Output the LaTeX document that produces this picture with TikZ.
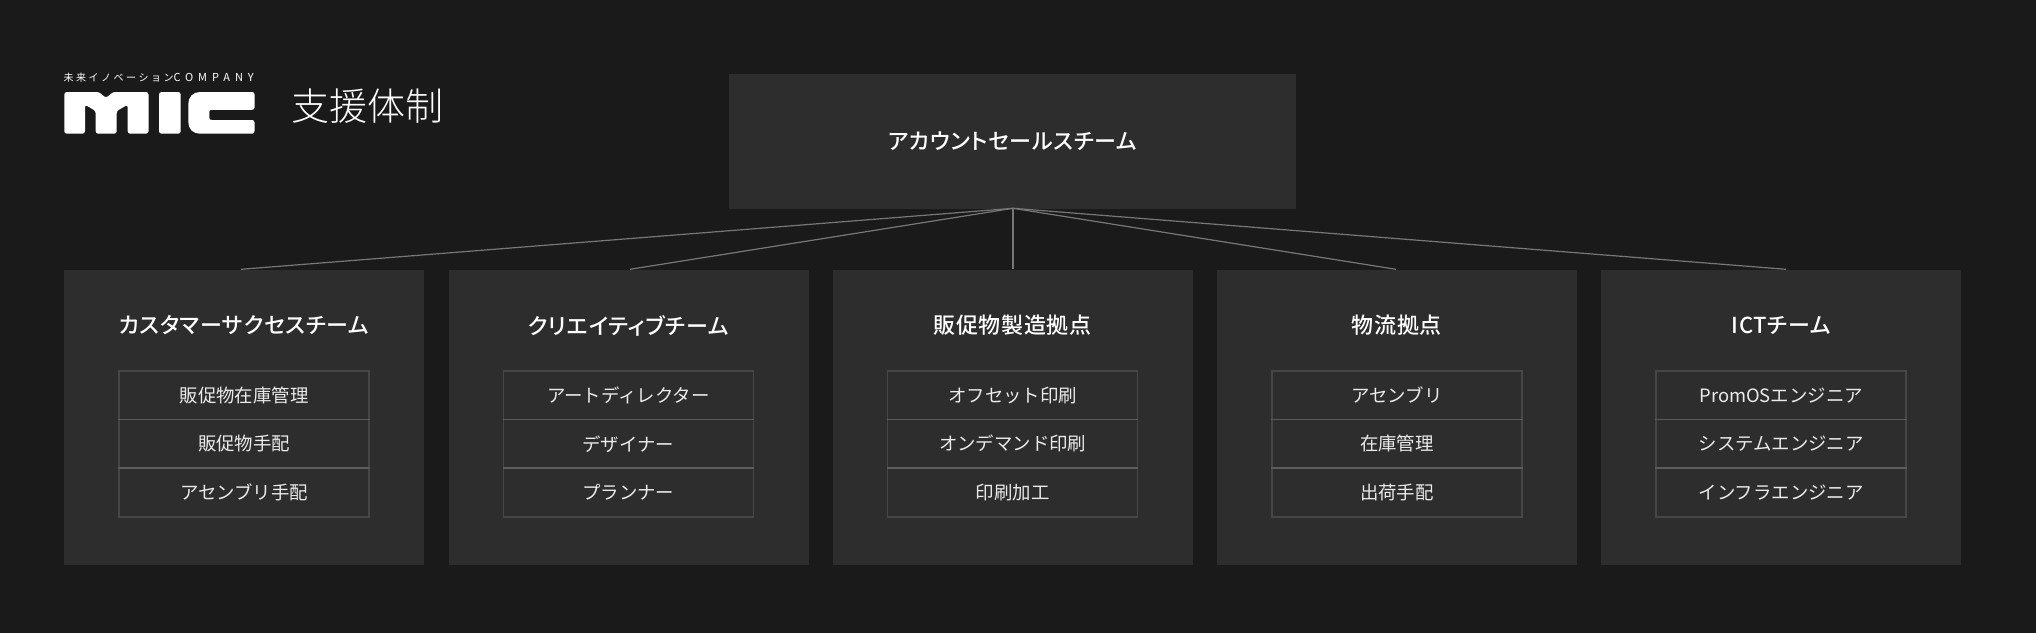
\documentclass[tikz,border=0pt]{standalone}
\usepackage{fontspec}
\setmainfont{Noto Sans CJK JP}
\newfontfamily\jplight{Noto Sans CJK JP Light}[RawFeature=+palt]
\newfontfamily\jphead{Noto Sans CJK JP Medium}[RawFeature=+palt,LetterSpace=3]
\newfontfamily\jptag{Noto Sans CJK JP}[LetterSpace=25]
\newfontfamily\jptaglat{Noto Sans CJK JP}[LetterSpace=45]
\definecolor{bgc}{HTML}{1A1A1A}
\definecolor{panelc}{HTML}{2D2D2D}
\definecolor{linkc}{HTML}{777777}
\definecolor{textc}{HTML}{FFFFFF}
\tikzset{
  panel/.style={fill=panelc,draw=none,inner sep=0pt,minimum width=360pt,minimum height=295pt,anchor=north west},
  topbox/.style={fill=panelc,draw=none,inner sep=0pt,minimum width=567.5pt,minimum height=135pt,anchor=north west},
  head/.style={text=textc,font=\jphead\fontsize{22}{26}\selectfont,inner sep=0pt,anchor=center},
  cell/.style={draw=white,draw opacity=0.12,line width=1.6pt,fill=none,inner sep=0pt,minimum width=250pt,minimum height=48.67pt,text=textc!92!black,font=\fontsize{18.4}{22}\selectfont,anchor=north},
  link/.style={draw=linkc,line width=1.2pt},
  logo/.style={fill=white,draw=none},
}
\newcommand{\team}[6]{%
  \node[panel] (p#1) at (#2,269.3) {};
  \node[head] (h#1) at (#2+180,325.5) {#3};
  \node[cell] (a#1) at (#2+180,370) {#4};
  \node[cell] (b#1) at (#2+180,418.67) {#5};
  \node[cell] (c#1) at (#2+180,467.34) {#6};
}
\begin{document}
\begin{tikzpicture}[x=1pt,y=-1pt]
\useasboundingbox (0,0) rectangle (2036,632);
\fill[bgc] (-3,-3) rectangle (2039,635);
\node[topbox] (top) at (728.5,73.3) {};
\node[head] (toplabel) at (1012.5,141.5) {アカウントセールスチーム};
\team{1}{64}{カスタマーサクセスチーム}{販促物在庫管理}{販促物手配}{アセンブリ手配}
\team{2}{448.3}{クリエイティブチーム}{アートディレクター}{デザイナー}{プランナー}
\team{3}{832.6}{販促物製造拠点}{オフセット印刷}{オンデマンド印刷}{印刷加工}
\team{4}{1216.9}{物流拠点}{アセンブリ}{在庫管理}{出荷手配}
\team{5}{1601.2}{ICTチーム}{PromOSエンジニア}{システムエンジニア}{インフラエンジニア}
\coordinate (e1) at (241,269.3);
\coordinate (e2) at (630,269.3);
\coordinate (e3) at (1013,269.3);
\coordinate (e4) at (1396,269.3);
\coordinate (e5) at (1786,269.3);
\coordinate (s) at (1013,208.3);
\foreach \i in {1,...,5} \draw[link] (s) -- (e\i);
\node[text=textc,inner sep=0pt,anchor=west] (tag) at (63.5,78) {\jptag\fontsize{10}{12}\selectfont 未来イノベーション\jptaglat\fontsize{11}{12}\selectfont COMPANY};
\node[text=textc,inner sep=0pt,font=\jplight\fontsize{38}{42}\selectfont] (title) at (367,106) {支援体制};
% logo M
\fill[logo,rounded corners=2.5pt] (64.3,92) -- (99,92) -- (106,98) -- (113,92) -- (148.5,92) -- (148.5,133.7) -- (127.7,133.7) -- (127.7,104.7) -- (116.7,111) -- (116.7,133.7) -- (95.7,133.7) -- (95.7,111) -- (85,104.7) -- (85,133.7) -- (64.3,133.7) -- cycle;
% logo I
\fill[logo,rounded corners=2.5pt] (159,92) rectangle (180.7,133.7);
% logo C
\fill[logo] (200,92) -- (252,92) .. controls (253.5,92) and (254.5,93) .. (254.5,94.5) -- (254.5,107.5) .. controls (254.5,109) and (253.5,109.8) .. (252,109.8) -- (212,109.8) .. controls (210,109.8) and (209.3,110.5) .. (209.3,112) -- (209.3,117.5) .. controls (209.3,119.3) and (210,120) .. (212,120) -- (252,120) .. controls (253.5,120) and (254.5,121) .. (254.5,122.5) -- (254.5,131) .. controls (254.5,132.7) and (253.5,133.7) .. (252,133.7) -- (200,133.7) .. controls (193,133.7) and (188.3,129) .. (188.3,122) -- (188.3,104) .. controls (188.3,97) and (193,92) .. (200,92) -- cycle;
\end{tikzpicture}
\end{document}
